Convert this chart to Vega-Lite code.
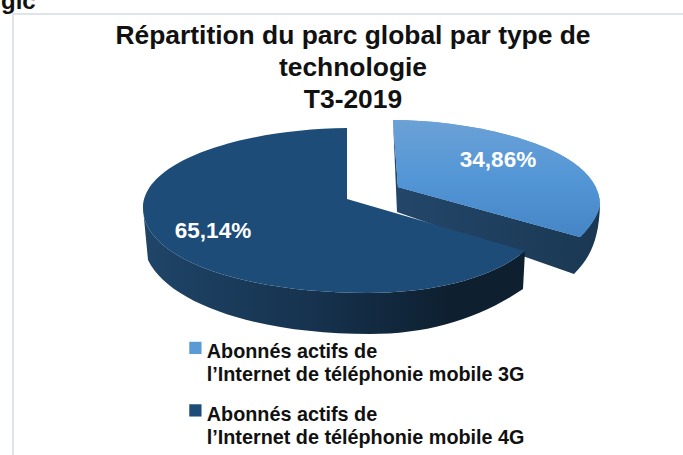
{
  "$schema": "https://vega.github.io/schema/vega-lite/v6.json",
  "width": 683,
  "height": 455,
  "autosize": "none",
  "padding": 0,
  "background": "white",
  "view": {"stroke": null},
  "title": {
    "text": ["Répartition du parc global par type de", "technologie", "T3-2019"],
    "font": "Liberation Sans",
    "fontWeight": "bold",
    "fontSize": 26.4,
    "lineHeight": 32,
    "color": "#111111",
    "anchor": "middle",
    "baseline": "top",
    "offset": 0,
    "dx": 11.5,
    "dy": 124
  },
  "data": {
    "values": [
      {"tech": "Abonnés actifs de l’Internet de téléphonie mobile 3G", "share": 34.86, "label": "34,86%"},
      {"tech": "Abonnés actifs de l’Internet de téléphonie mobile 4G", "share": 65.14, "label": "65,14%"}
    ]
  },
  "encoding": {
    "color": {
      "field": "tech",
      "scale": {
        "domain": ["Abonnés actifs de l’Internet de téléphonie mobile 3G", "Abonnés actifs de l’Internet de téléphonie mobile 4G"],
        "range": ["#5b9bd5", "#1d4c78"]
      },
      "legend": {
        "title": null,
        "orient": "none",
        "legendX": 185.5,
        "legendY": 338,
        "symbolType": "square",
        "symbolSize": 150,
        "symbolOpacity": 1,
        "symbolStrokeWidth": 0,
        "labelFont": "Liberation Sans",
        "labelFontWeight": "bold",
        "labelFontSize": 19.8,
        "labelColor": "#111111",
        "labelLimit": 500,
        "labelBaseline": "top",
        "labelOffset": 1.5,
        "rowPadding": 14.5,
        "labelExpr": "split(replace(datum.label, ' l’Internet', '|l’Internet'), '|')",
        "encode": {"labels": {"update": {"lineHeight": {"value": 23}, "dy": {"value": -5.5}}}}
      }
    }
  },
  "layer": [
    {
      "transform": [{"filter": "datum.share < 50"}],
      "mark": {
        "type": "point", "filled": true, "opacity": 1, "size": 4, "strokeWidth": 0,
        "shape": "M51.5,-107.5L55.5,-15.5L232.5,46.5C248.5,30.5,257.5,12.5,258.5,-22.5L238.5,9.5L56.5,-40.5Z"
      },
      "encoding": {"color": {"value": {"gradient": "linear", "x1": 0, "y1": 0, "x2": 1, "y2": 0, "stops": [{"offset": 0, "color": "#23466a"}, {"offset": 1, "color": "#1a3852"}]}}}
    },
    {
      "transform": [{"filter": "datum.share > 50"}],
      "mark": {
        "type": "point", "filled": true, "opacity": 1, "size": 4, "strokeWidth": 0,
        "shape": "M-198.5,-19.5C-198.5,30.5,-101.5,65.5,26.5,65.5C88.5,65.5,148.5,52.5,183.5,23.5L181.5,61.5C138.5,90.5,88.5,106.5,28.5,106.5C-81.5,106.5,-171.5,77.5,-193.5,32.5Z"
      },
      "encoding": {"color": {"value": {"gradient": "linear", "x1": 0, "y1": 0, "x2": 1, "y2": 0, "stops": [{"offset": 0, "color": "#1f4568"}, {"offset": 0.45, "color": "#16324e"}, {"offset": 0.8, "color": "#0e2030"}, {"offset": 1, "color": "#0e2030"}]}}}
    },
    {
      "transform": [{"filter": "datum.share > 50"}],
      "mark": {
        "type": "point", "filled": true, "opacity": 1, "size": 4, "strokeWidth": 0,
        "shape": "M5.5,-28.5L5.5,-99.5C-96.5,-98.5,-198.5,-67.5,-198.5,-19.5C-198.5,30.5,-101.5,65.5,26.5,65.5C88.5,65.5,148.5,52.5,183.5,23.5Z"
      }
    },
    {
      "transform": [{"filter": "datum.share < 50"}],
      "mark": {
        "type": "point", "filled": true, "opacity": 1, "size": 4, "strokeWidth": 0,
        "shape": "M56.5,-40.5L51.5,-107.5C128.5,-107.5,258.5,-82.5,258.5,-22.5C256.5,-12.5,248.5,0.5,238.5,9.5Z"
      }
    },
    {
      "transform": [{"filter": "datum.share < 50"}],
      "mark": {
        "type": "point", "filled": true, "opacity": 1, "size": 4, "strokeWidth": 0,
        "shape": "M56.5,-40.5L51.5,-107.5C128.5,-107.5,258.5,-82.5,258.5,-22.5C256.5,-12.5,248.5,0.5,238.5,9.5Z"
      },
      "encoding": {"color": {"value": {"gradient": "linear", "x1": 0, "y1": 0, "x2": 0, "y2": 1, "stops": [{"offset": 0, "color": "#6ba1d6"}, {"offset": 0.5, "color": "#5396d6"}, {"offset": 1, "color": "#4585c6"}]}}}
    },
    {
      "transform": [{"filter": "datum.share < 50"}],
      "mark": {"type": "text", "font": "Liberation Sans", "fontWeight": "bold", "fontSize": 22.5, "dx": 156.5, "dy": -67.5},
      "encoding": {"text": {"field": "label"}, "color": {"value": "white"}}
    },
    {
      "transform": [{"filter": "datum.share > 50"}],
      "mark": {"type": "text", "font": "Liberation Sans", "fontWeight": "bold", "fontSize": 22.5, "dx": -128.5, "dy": 3.5},
      "encoding": {"text": {"field": "label"}, "color": {"value": "white"}}
    },
    {
      "data": {"values": [{"fragment": "gic"}]},
      "mark": {"type": "text", "font": "Liberation Sans", "fontWeight": "bold", "fontSize": 24, "align": "left", "baseline": "alphabetic", "dx": -340.5, "dy": -219},
      "encoding": {"text": {"field": "fragment"}, "color": {"value": "#111111"}}
    },
    {
      "data": {"values": [{"item": "frame"}]},
      "mark": {
        "type": "point", "filled": false, "opacity": 1, "size": 4, "strokeWidth": 2,
        "shape": "M-328.5,227.5L-328.5,-213.5L341.5,-213.5"
      },
      "encoding": {"color": {"value": "#dfe4ec"}}
    }
  ]
}
